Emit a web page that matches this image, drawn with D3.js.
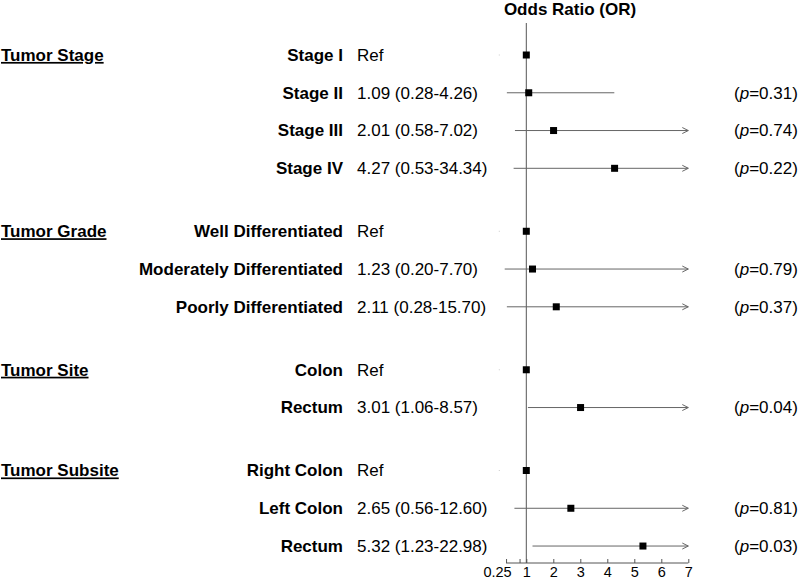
<!DOCTYPE html>
<html><head><meta charset="utf-8">
<script src="https://cdn.jsdelivr.net/npm/d3@7"></script>
<style>
body{margin:0;background:#fff;}
svg{display:block;font-family:"Liberation Sans",Arial,sans-serif;}
</style></head>
<body><svg id="c" width="800" height="584"></svg>
<script>
const groups = ["Tumor Stage","Tumor Grade","Tumor Site","Tumor Subsite"];
const rowGroup = [0,0,0,0,1,1,1,2,2,3,3,3];
const labels = ["Stage I","Stage II","Stage III","Stage IV","Well Differentiated","Moderately Differentiated","Poorly Differentiated","Colon","Rectum","Right Colon","Left Colon","Rectum"];
const oddsRatio = [1,1.09,2.01,4.27,1,1.23,2.11,1,3.01,1,2.65,5.32];
const lower = [null,0.28,0.58,0.53,null,0.20,0.28,null,1.06,null,0.56,1.23];
const upper = [null,4.26,7.02,34.34,null,7.70,15.70,null,8.57,null,12.60,22.98];
const pValues = [null,"0.31","0.74","0.22",null,"0.79","0.37",null,"0.04",null,"0.81","0.03"];
const tickValues = [0.25,0.75,1,2,3,4,5,6,7];
const tickLabels = ["0.25","","1","2","3","4","5","6","7"];

const svg = d3.select("#c");
const x = d3.scaleLinear().domain([0,7]).range([499.3,688.3]);
const rowIdx = labels.map((d,i)=> i + rowGroup[i]*0.667);
const y = d3.scaleLinear().domain([0,13]).range([55,546]);
const xMax = 7;

// title
svg.append("text").attr("x",570).attr("y",15).attr("text-anchor","middle")
  .attr("font-weight","bold").attr("font-size",17).text("Odds Ratio (OR)");

// vertical reference line at 1
svg.append("line").attr("x1",x(1)).attr("x2",x(1)).attr("y1",23).attr("y2",563)
  .attr("stroke","#555").attr("stroke-width",1);

// axis
const axis = d3.axisTop(x).tickValues(tickValues).tickSize(4)
  .tickFormat((d,i)=>tickLabels[i]);
const ag = svg.append("g").attr("transform","translate(0,563)").call(axis)
  .attr("font-size",14).attr("font-family","Liberation Sans, Arial, sans-serif");
ag.select(".domain").attr("d",`M${x(0.25)},0H${x(7)}`).attr("stroke","#555");
ag.selectAll(".tick line").attr("stroke","#555");
ag.selectAll(".tick text").attr("y",14).attr("dy",0).style("font-size","14.5px").attr("fill","#000")
  .attr("dx",d=> d===0.25 ? -9 : 0);

// group labels
const firstRow = groups.map((g,gi)=> rowGroup.indexOf(gi));
groups.forEach((g,gi)=>{
  svg.append("text").attr("x",1).attr("y",y(rowIdx[firstRow[gi]])).attr("dy","0.35em")
    .attr("font-weight","bold").attr("font-size",17).attr("text-decoration","underline").text(g);
});

const rows = svg.append("g").selectAll("g").data(labels).join("g");
rows.append("text").attr("x",343).attr("y",(d,i)=>y(rowIdx[i])).attr("dy","0.35em")
  .attr("text-anchor","end").attr("font-weight","bold").attr("font-size",17).text(d=>d);
rows.append("text").attr("x",357).attr("y",(d,i)=>y(rowIdx[i])).attr("dy","0.35em")
  .attr("font-size",17)
  .text((d,i)=> lower[i]==null ? "Ref" : `${oddsRatio[i].toFixed(2)} (${lower[i].toFixed(2)}-${upper[i].toFixed(2)})`);

// p values
labels.forEach((d,i)=>{
  if(pValues[i]==null) return;
  const t = svg.append("text").attr("x",734).attr("y",y(rowIdx[i])).attr("dy","0.35em").attr("font-size",17);
  t.append("tspan").text("(");
  t.append("tspan").attr("font-style","italic").text("p");
  t.append("tspan").text("=" + pValues[i] + ")");
});

// CI lines
labels.forEach((d,i)=>{
  const yy = y(rowIdx[i]);
  if(lower[i]==null){
    svg.append("rect").attr("x",x(0)-0.5).attr("y",yy-0.5).attr("width",1).attr("height",1).attr("fill","#ccc");
    return;
  }
  const hi = Math.min(upper[i], xMax);
  svg.append("line").attr("x1",x(lower[i])).attr("x2",x(hi)).attr("y1",yy).attr("y2",yy)
    .attr("stroke","#666").attr("stroke-width",1);
  if(upper[i] > xMax){
    svg.append("path").attr("d",`M${x(xMax)-6},${yy-3}L${x(xMax)},${yy}L${x(xMax)-6},${yy+3}`)
      .attr("fill","none").attr("stroke","#666").attr("stroke-width",1);
  }
});

// squares
labels.forEach((d,i)=>{
  const yy = y(rowIdx[i]);
  svg.append("rect").attr("x",x(oddsRatio[i])-3.5).attr("y",yy-3.5).attr("width",7).attr("height",7).attr("fill","#000");
});
</script></body></html>
